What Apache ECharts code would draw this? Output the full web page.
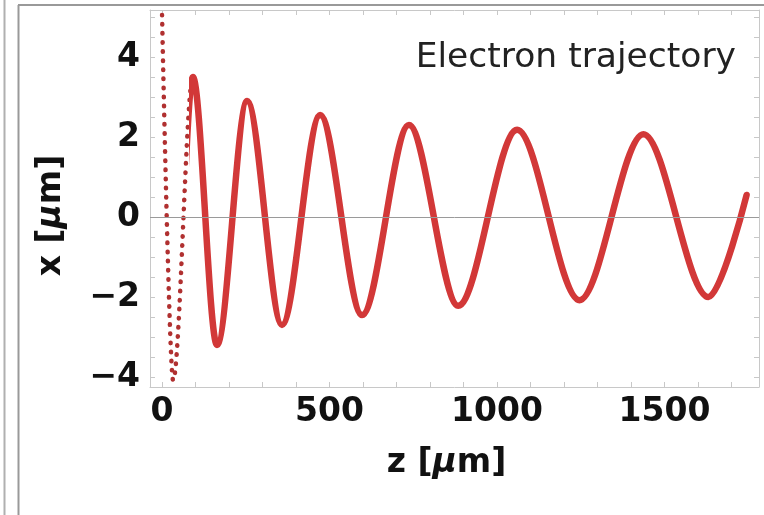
<!DOCTYPE html>
<html>
<head>
<meta charset="utf-8">
<script src="https://cdn.jsdelivr.net/npm/echarts@6/dist/echarts.min.js"></script>
<style>
  html, body { margin: 0; padding: 0; background: #fff; }
  #chart { width: 764px; height: 515px; }
</style>
</head>
<body>
<div id="chart"></div>
<script>
// turning points of the trajectory: z [um], x [um]
var zPath = [0, 33, 92, 164, 254, 358, 472, 597, 737, 884, 1060, 1246, 1437, 1631, 1745];
var xPath = [5.05, -4.08, 3.5, -3.2, 2.9, -2.7, 2.55, -2.45, 2.3, -2.22, 2.18, -2.08, 2.07, -2.0, 0.55];

// z range where the sampled points are far apart (drawn as dots)
var dotBands = [[-40, 81]];

var xTickLabels = [0, 500, 1000, 1500];
var xTicks = [0, 100, 200, 300, 400, 500, 600, 700, 800, 900, 1000, 1100, 1200, 1300, 1400, 1500, 1600, 1700];
var yTickLabels = [-4, -2, 0, 2, 4];
var yTicks = [-4, -3.5, -3, -2.5, -2, -1.5, -1, -0.5, 0, 0.5, 1, 1.5, 2, 2.5, 3, 3.5, 4, 4.5, 5];

var path = zPath.map(function (z, i) { return [z, xPath[i]]; });

var frameColor = '#c8c8c8';
var font = 'DejaVu Sans';
var red = '#d23838';
var dotRed = '#b03030';
var clear = 'rgba(210,56,56,0)';

var myChart = echarts.init(document.getElementById('chart'));

function frameAxis(extra) {
  var a = {
    type: 'value',
    axisLine: { show: true, onZero: false, lineStyle: { color: frameColor, width: 1 } },
    splitLine: { show: false },
    axisLabel: { show: false }
  };
  for (var k in extra) a[k] = extra[k];
  return a;
}

var nameStyle = {
  fontFamily: font, fontSize: 33, fontWeight: 'bold', color: '#111',
  rich: { i: { fontFamily: font, fontSize: 33, fontWeight: 'bold', fontStyle: 'italic', color: '#111' } }
};

var option = {
  animation: false,
  backgroundColor: '#fff',
  title: {
    text: 'Electron trajectory',
    right: 23,
    top: 36,
    textStyle: { fontFamily: font, fontSize: 34.5, fontWeight: 'normal', color: '#222' }
  },
  grid: { left: 150, top: 10, right: 5, bottom: 128 },
  xAxis: [
    frameAxis({
      min: -36, max: 1782, position: 'bottom',
      axisTick: { show: true, inside: true, length: 5, customValues: xTicks, lineStyle: { color: frameColor } },
      axisLabel: {
        customValues: xTickLabels, margin: 9, color: '#111', fontFamily: font, fontSize: 33, fontWeight: 'bold',
        formatter: function (v) { return String(v); }
      },
      name: 'z [{i|μ}m]',
      nameLocation: 'middle',
      nameGap: 60,
      nameTextStyle: Object.assign({ padding: [0, 16, 0, 0] }, nameStyle)
    }),
    frameAxis({
      min: -36, max: 1782, position: 'top',
      axisTick: { show: true, inside: true, length: 5, customValues: xTicks, lineStyle: { color: frameColor } }
    })
  ],
  yAxis: [
    frameAxis({
      min: -4.25, max: 5.175, position: 'left',
      axisTick: { show: true, inside: true, length: 5, customValues: yTicks, lineStyle: { color: frameColor } },
      axisLabel: {
        customValues: yTickLabels, margin: 10, color: '#111', fontFamily: font, fontSize: 33, fontWeight: 'bold',
        padding: [8, 0, 0, 0],
        formatter: function (v) { return String(v).replace('-', '\u2212'); }
      },
      name: 'x [{i|μ}m]',
      nameLocation: 'middle',
      nameGap: 82,
      nameTextStyle: Object.assign({ padding: [0, 34, 0, 0] }, nameStyle)
    }),
    frameAxis({
      min: -4.25, max: 5.175, position: 'right',
      axisTick: { show: true, inside: true, length: 5, customValues: yTicks, lineStyle: { color: frameColor } }
    })
  ],
  series: [{
    // zero line
    type: 'line', data: [], z: 1, silent: true,
    markLine: {
      silent: true, symbol: 'none', label: { show: false },
      lineStyle: { color: '#9a9a9a', width: 1, type: 'solid' },
      data: [{ yAxis: 0 }]
    }
  }, {
    type: 'line', data: path, smooth: 0.33, smoothMonotone: 'x', showSymbol: false, z: 3,
    lineStyle: { width: 4.5, color: dotRed, type: [0.5, 8.6], cap: 'round' }
  }, {
    type: 'line', data: path, smooth: 0.33, smoothMonotone: 'x', showSymbol: false, z: 4,
    lineStyle: { width: 6.5, color: red, cap: 'round', join: 'round' }
  }],
  graphic: [
    { type: 'line', shape: { x1: 4.5, y1: 0, x2: 4.5, y2: 515 }, style: { stroke: '#b0b0b0', lineWidth: 2 } },
    { type: 'line', shape: { x1: 18.5, y1: 5, x2: 18.5, y2: 515 }, style: { stroke: '#999', lineWidth: 2 } },
    { type: 'line', shape: { x1: 18, y1: 5, x2: 764, y2: 5 }, style: { stroke: '#999', lineWidth: 2 } }
  ]
};

myChart.setOption(option);

// horizontal gradients in page space: hide solid line where dots show, hide dots elsewhere
var x0 = 0, x1 = myChart.getWidth();
function off(z) {
  var px = myChart.convertToPixel({ xAxisIndex: 0 }, z);
  return Math.min(1, Math.max(0, (px - x0) / (x1 - x0)));
}
function bandGradient(inColor, outColor) {
  var stops = [{ offset: 0, color: outColor }];
  dotBands.forEach(function (b) {
    stops.push({ offset: off(b[0]), color: outColor });
    stops.push({ offset: off(b[0]), color: inColor });
    stops.push({ offset: off(b[1]), color: inColor });
    stops.push({ offset: off(b[1]), color: outColor });
  });
  stops.push({ offset: 1, color: outColor });
  return { type: 'linear', x: x0, y: 0, x2: x1, y2: 0, global: true, colorStops: stops };
}

myChart.setOption({
  series: [{}, {
    lineStyle: { color: bandGradient(dotRed, clear) }
  }, {
    lineStyle: { color: bandGradient(clear, red) }
  }]
});
</script>
</body>
</html>
